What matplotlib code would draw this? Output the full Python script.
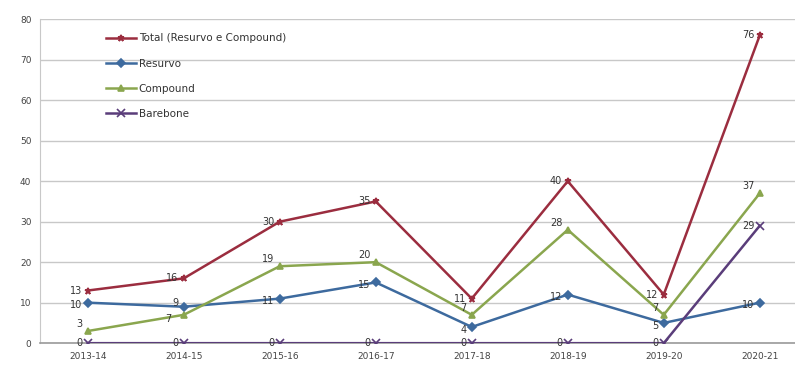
import numpy as np
import matplotlib
matplotlib.use("Agg")
from matplotlib import pyplot as plt

years = ["2013-14", "2014-15", "2015-16", "2016-17",
         "2017-18", "2018-19", "2019-20", "2020-21"]
total = [13, 16, 30, 35, 11, 40, 12, 76]
resurvo = [10, 9, 11, 15, 4, 12, 5, 10]
compound = [3, 7, 19, 20, 7, 28, 7, 37]
barebone = [0, 0, 0, 0, 0, 0, 0, 29]

# name, values, colour, marker, marker size, label offset (points)
series = [
    ("Total (Resurvo e Compound)", total, "#9b2d3f", "*", 5, (-4, 0)),
    ("Resurvo", resurvo, "#3d6a9e", "D", 4, (-4, -2)),
    ("Compound", compound, "#8aa64e", "^", 5, (-4, 5)),
    ("Barebone", barebone, "#5a3d7a", "x", 6, (-4, 0)),
]
# a few labels crowd each other in 2014-15, nudge them apart
nudges = {("Resurvo", 1): (-4, 3), ("Compound", 1): (-9, -3)}


def main():
    fig = plt.figure(figsize=(7.95, 3.69), dpi=100)
    ax = fig.add_axes([0.05, 0.07, 0.96, 0.878])
    x = np.arange(len(years))

    for name, values, color, marker, ms, offset in series:
        ax.plot(x, values, color=color, lw=1.8, marker=marker, ms=ms,
                markeredgewidth=1.2, label=name, zorder=3)
        # value labels sit just left of each point
        for xi, v in zip(x, values):
            ax.annotate(str(v), (xi, v), xytext=nudges.get((name, xi), offset),
                        textcoords="offset points", ha="right", va="center",
                        fontsize=7, color="#333333", zorder=4)

    ax.set_xlim(-0.5, 7.45)
    ax.set_ylim(0, 80)
    ax.set_yticks(range(0, 81, 10))
    ax.set_xticks(x)
    ax.set_xticklabels(years)
    ax.tick_params(axis="both", labelsize=6.5, colors="#444444", length=0, pad=6)
    ax.grid(axis="y", color="#c8c8c8", lw=1)
    ax.set_axisbelow(True)
    for side in ["top", "right"]:
        ax.spines[side].set_visible(False)
    ax.spines["left"].set_color("#c8c8c8")
    ax.spines["bottom"].set_color("#9a9a9a")
    ax.spines["bottom"].set_linewidth(1.2)

    leg = ax.legend(loc="upper left", bbox_to_anchor=(0.075, 0.985), frameon=False,
                    fontsize=7.5, handlelength=2.8, labelspacing=1.45, handletextpad=0.3)
    for t in leg.get_texts():
        t.set_color("#333333")

    fig.savefig("out.png", dpi=100)


if __name__ == '__main__':
    main()
